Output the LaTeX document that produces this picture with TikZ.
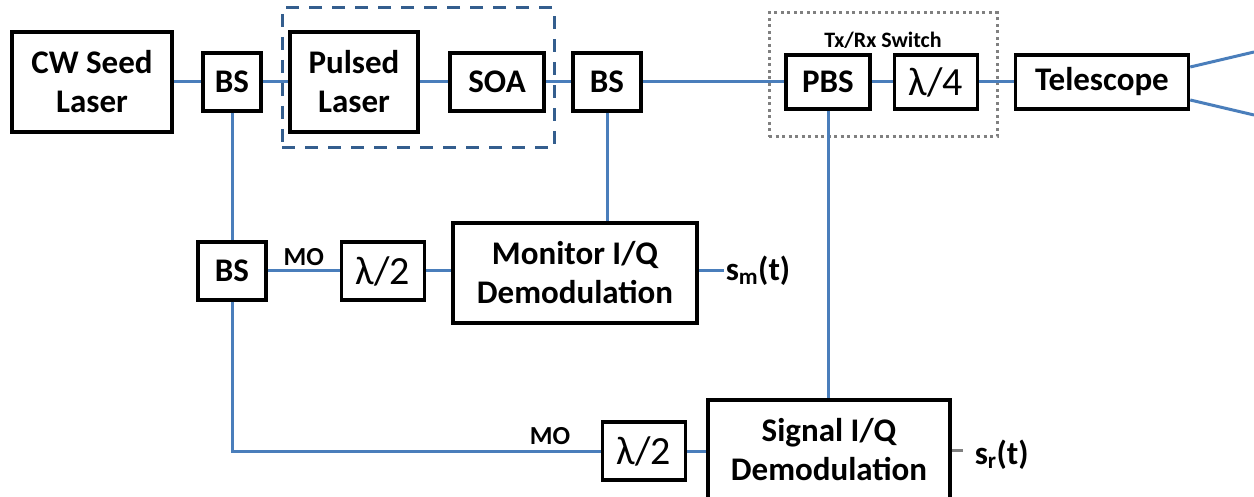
\documentclass[tikz,border=0pt]{standalone}
\usepackage{fontspec}
\setmainfont{Carlito}
\usetikzlibrary{positioning}

\definecolor{fiber}{RGB}{74,126,187}
\definecolor{pulsecol}{RGB}{52,94,142}
\definecolor{switchcol}{RGB}{128,128,128}

\begin{document}
\begin{tikzpicture}[x=1pt, y=-1pt,
  blk/.style={draw, line width=3.5pt, fill=white, align=center, inner sep=0pt,
    font=\fontsize{33}{39}\selectfont\bfseries},
  wave/.style={blk, font=\fontsize{40}{40}\selectfont, minimum width=83, minimum height=58},
  link/.style={draw=fiber, line width=3pt},
  tag/.style={font=\fontsize{26}{28}\selectfont\bfseries, inner sep=0pt}]
\useasboundingbox (0,0) rectangle (1254,497);

% groups behind the optics
\node[draw=pulsecol, line width=3pt, dash pattern=on 13pt off 10pt,
  minimum width=272, minimum height=140, inner sep=0pt] (pulsegrp) at (418,78) {};
\node[draw=switchcol, line width=3pt, dash pattern=on 3pt off 3.5pt,
  minimum width=228, minimum height=124, inner sep=0pt] (switchgrp) at (883,75) {};
\node[tag, font=\fontsize{22}{24}\selectfont\bfseries] (swlabel) at (883,40) {Tx/Rx Switch};

% transmit path
\node[blk, minimum width=160, minimum height=100] (seed) at (92,82) {CW Seed\\Laser};
\node[blk, minimum width=58, minimum height=58] (bs1) at (232,82) {BS};
\node[blk, minimum width=128, minimum height=100] (pulsed) at (354,82) {Pulsed\\Laser};
\node[blk, minimum width=94, minimum height=58] (soa) at (497,82) {SOA};
\node[blk, minimum width=68, minimum height=58] (bs2) at (607,82) {BS};
\node[blk, minimum width=84, minimum height=54] (pbs) at (828,82) {PBS};
\node[wave, minimum height=54] (qwp) at (936,82) {λ/4};
\node[blk, minimum width=173, minimum height=54] (tele) at (1102,82) {Telescope};

% local oscillator and receivers
\node[blk, minimum width=68, minimum height=58] (bs3) at (232,271) {BS};
\node[wave] (hwp1) at (383,271) {λ/2};
\node[blk, minimum width=244, minimum height=100] (mon) at (575,273) {Monitor I/Q\\Demodulation};
\node[wave] (hwp2) at (644,451) {λ/2};
\node[blk, minimum width=242, minimum height=100] (sig) at (829,450) {Signal I/Q\\Demodulation};

\node[blk, draw=none, fill=none, anchor=west] (sm) at (724,271) {s\textsubscript{m}(t)};
\node[blk, draw=none, fill=none, anchor=west] (sr) at (973,455) {s\textsubscript{r}(t)};
\coordinate (beamup) at (1254,52);
\coordinate (beamdn) at (1254,115);

% fibre links
\draw[link] (seed) -- (bs1);
\draw[link] (bs1) -- (pulsed);
\draw[link] (pulsed) -- (soa);
\draw[link] (soa) -- (bs2);
\draw[link] (bs2) -- (pbs);
\draw[link] (pbs) -- (qwp);
\draw[link] (qwp) -- (tele);
\draw[link] ([yshift=15pt]tele.east) -- (beamup);
\draw[link] ([yshift=-18pt]tele.east) -- (beamdn);
\draw[link] (bs1) -- (bs3);
\draw[link] (bs3) -- node[tag, above=4pt] (mo1) {MO} (hwp1);
\draw[link] (hwp1) -- (mon.west |- hwp1);
\draw[link] (bs2.south) -- (bs2.south |- mon.north);
\draw[link] (pbs.south) -- (pbs.south |- sig.north);
\draw[link] (bs3.south) |- (hwp2.west);
\node[tag] (mo2) at (550,436) {MO};
\draw[link] (hwp2) -- (sig.west |- hwp2);
\draw[link] (mon.east |- sm.west) -- (sm.west);
\draw[draw=switchcol, line width=3pt] (sig.east |- 0,450) -- (963,450);
\end{tikzpicture}
\end{document}
